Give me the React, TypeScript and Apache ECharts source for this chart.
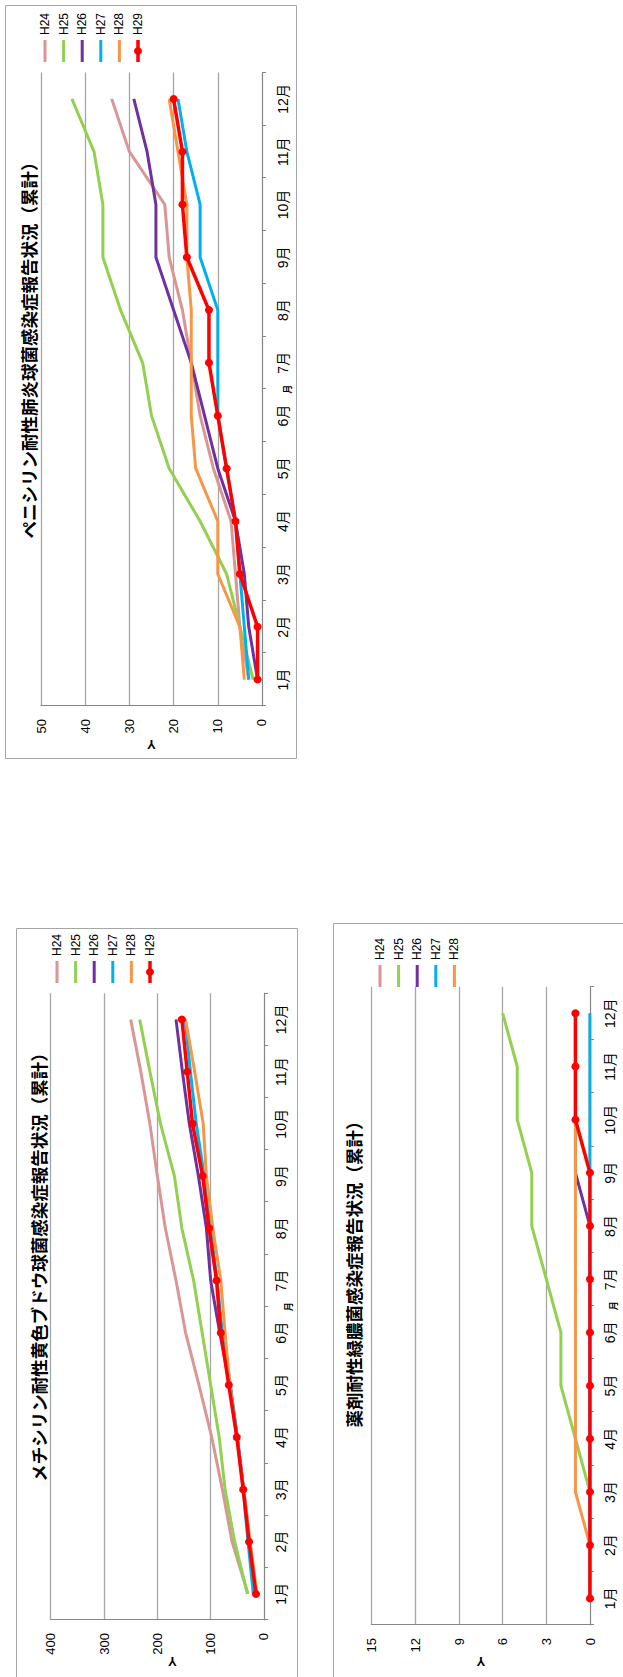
import React, { useEffect, useRef } from "react";
import * as echarts from "echarts";

const months = ["1月", "2月", "3月", "4月", "5月", "6月", "7月", "8月", "9月", "10月", "11月", "12月"];
const seriesNames = ["H24", "H25", "H26", "H27", "H28", "H29"];
const colors = ["#D99694", "#92D050", "#7030A0", "#00B0F0", "#F79646", "#FF0000"];

// ペニシリン耐性肺炎球菌
const penH24 = [3, 5, 6, 7, 11, 14, 16, 18, 21, 22, 30, 34];
const penH25 = [2, 5, 8, 14, 21, 25, 27, 32, 36, 36, 38, 43];
const penH26 = [1, 3, 4, 6, 10, 13, 16, 20, 24, 24, 26, 29];
const penH27 = [3, 4, 5, 6, 8, 10, 10, 10, 14, 14, 17, 19];
const penH28 = [4, 5, 10, 10, 15, 16, 16, 16, 17, 17, 19, 21];
const penH29 = [1, 1, 5, 6, 8, 10, 12, 12, 17, 18, 18, 20];

// メチシリン耐性黄色ブドウ球菌
const mrsaH24 = [30, 60, 78, 98, 122, 147, 165, 185, 200, 214, 231, 250];
const mrsaH25 = [31, 55, 73, 84, 100, 116, 132, 154, 168, 194, 214, 233];
const mrsaH26 = [16, 27, 38, 50, 64, 83, 100, 108, 123, 140, 153, 165];
const mrsaH27 = [20, 30, 39, 50, 63, 78, 88, 100, 112, 127, 138, 148];
const mrsaH28 = [13, 26, 38, 51, 64, 73, 81, 96, 108, 114, 130, 147];
const mrsaH29 = [15, 28, 39, 51, 66, 81, 89, 103, 115, 134, 144, 154];

// 薬剤耐性緑膿菌
const psH24 = [0, 0, 0, 0, 0, 0, 0, 0, 0, 0, 0, 0];
const psH25 = [0, 0, 0, 1, 2, 2, 3, 4, 4, 5, 5, 6];
const psH26 = [0, 0, 0, 0, 0, 0, 0, 0, 1, 1, 1, 1];
const psH27 = [0, 0, 0, 0, 0, 0, 0, 0, 0, 0, 0, 0];
const psH28 = [0, 0, 1, 1, 1, 1, 1, 1, 1, 1, 1, 1];
const psH29 = [0, 0, 0, 0, 0, 0, 0, 0, 0, 1, 1, 1];

const FONT = '"Liberation Sans", "Noto Sans CJK JP", sans-serif';
const CJK = '"Noto Sans CJK JP", sans-serif';

// legend icons: plain line, and line with a round marker (bbox padded to 22x12)
const LINE_ICON = "path://M0 0M22 12M0 4.5H22V7.5H0Z";
const MARK_ICON = "path://M0 0M22 12M0 4.25H7.4A4 4 0 0 1 14.6 4.25H22V7.75H14.6A4 4 0 0 1 7.4 7.75H0Z";

type Cfg = {
  left: number;
  bottom: number;
  w: number;
  h: number;
  title: string;
  titleX: number;
  titleTop: number;
  data: number[][];
  legendNames: string[];
  yMax: number;
  yInterval: number;
  grid: { left: number; right: number; top: number; bottom: number };
  legendLeft: number;
  legendTop: number;
  yNameGap: number;
  yNamePad?: number[];
  xLabelMargin: number;
  xNameGap: number;
};

const charts: Cfg[] = [
  {
    left: 5,
    bottom: 759,
    w: 754,
    h: 292,
    title: "ペニシリン耐性肺炎球菌感染症報告状況（累計）",
    titleX: 413,
    titleTop: 15,
    data: [penH24, penH25, penH26, penH27, penH28, penH29],
    legendNames: seriesNames,
    yMax: 50,
    yInterval: 10,
    grid: { left: 53, right: 67.5, top: 36, bottom: 31 },
    legendLeft: 697,
    legendTop: 34,
    yNameGap: 32,
    xLabelMargin: 14,
    xNameGap: 21,
  },
  {
    left: 16,
    bottom: 1678,
    w: 750,
    h: 282,
    title: "メチシリン耐性黄色ブドウ球菌感染症報告状況（累計）",
    titleX: 415,
    titleTop: 14,
    data: [mrsaH24, mrsaH25, mrsaH26, mrsaH27, mrsaH28, mrsaH29],
    legendNames: seriesNames,
    yMax: 400,
    yInterval: 100,
    grid: { left: 58, right: 65.3, top: 34.7, bottom: 29.7 },
    legendLeft: 695,
    legendTop: 35,
    yNameGap: 35,
    yNamePad: [0, 30, 0, 0],
    xLabelMargin: 10,
    xNameGap: 20,
  },
  {
    left: 333,
    bottom: 1678,
    w: 755,
    h: 300,
    title: "薬剤耐性緑膿菌感染症報告状況（累計）",
    titleX: 408,
    titleTop: 12,
    data: [psH24, psH25, psH26, psH27, psH28, psH29],
    legendNames: seriesNames.slice(0, 5),
    yMax: 15,
    yInterval: 3,
    grid: { left: 53, right: 63.7, top: 38.7, bottom: 43 },
    legendLeft: 691,
    legendTop: 41,
    yNameGap: 30,
    xLabelMargin: 13,
    xNameGap: 19,
  },
];

function buildOption(c: Cfg): any {
  return {
    animation: false,
    backgroundColor: "#ffffff",
    textStyle: { fontFamily: FONT },
    title: {
      text: c.title,
      left: c.titleX,
      top: c.titleTop,
      textAlign: "center",
      padding: 0,
      textStyle: { fontSize: 17.5, fontWeight: "bold", color: "#000", fontFamily: CJK },
    },
    legend: {
      orient: "vertical",
      left: c.legendLeft,
      top: c.legendTop,
      padding: 0,
      itemWidth: 22,
      itemHeight: 12,
      itemGap: 6.6,
      data: c.legendNames.map((n) => ({ name: n, icon: n === "H29" ? MARK_ICON : LINE_ICON })),
      textStyle: { fontSize: 12, color: "#000", lineHeight: 12, fontFamily: FONT },
    },
    grid: { ...c.grid, containLabel: false },
    xAxis: {
      type: "category",
      data: months,
      boundaryGap: true,
      axisLine: { show: true, lineStyle: { color: "#868686", width: 1 } },
      axisTick: { show: true, length: 4, lineStyle: { color: "#868686" } },
      axisLabel: { margin: c.xLabelMargin, fontSize: 14, color: "#000", interval: 0, fontFamily: FONT },
      splitLine: { show: false },
      name: "月",
      nameLocation: "middle",
      nameGap: c.xNameGap,
      nameMoveOverlap: false,
      nameTextStyle: { fontSize: 9, fontWeight: "bold", color: "#000", fontFamily: CJK },
    },
    yAxis: {
      type: "value",
      min: 0,
      max: c.yMax,
      interval: c.yInterval,
      axisLine: { show: true, lineStyle: { color: "#868686", width: 1 } },
      axisTick: { show: false },
      splitLine: { show: true, lineStyle: { color: "#A6A6A6", width: 1.3 } },
      axisLabel: { margin: 13, fontSize: 13, color: "#000", fontFamily: FONT },
      name: "Y",
      nameLocation: "middle",
      nameGap: c.yNameGap,
      nameRotate: 90,
      nameMoveOverlap: false,
      nameTextStyle: {
        fontSize: 13,
        fontWeight: "bold",
        color: "#000",
        fontFamily: FONT,
        padding: c.yNamePad || 0,
      },
    },
    graphic: [
      {
        type: "rect",
        silent: true,
        z: 100,
        shape: { x: 0.5, y: 0.5, width: c.w - 1, height: c.h - 1 },
        style: { fill: "none", stroke: "#A6A6A6", lineWidth: 1 },
      },
    ],
    series: seriesNames.map((n, i) => ({
      name: n,
      type: "line",
      data: c.data[i],
      symbol: i === 5 ? "circle" : "none",
      showSymbol: i === 5,
      symbolSize: 8,
      lineStyle: { width: i === 5 ? 3.5 : 3, color: colors[i] },
      itemStyle: { color: colors[i] },
      z: 2 + i,
    })),
  };
}

function RotatedChart({ cfg }: { cfg: Cfg }) {
  const ref = useRef<HTMLDivElement>(null);
  useEffect(() => {
    if (!ref.current) return;
    const chart = echarts.init(ref.current, null, { renderer: "svg", width: cfg.w, height: cfg.h });
    chart.setOption(buildOption(cfg));
    return () => chart.dispose();
  }, [cfg]);
  return (
    <div
      ref={ref}
      style={{
        position: "absolute",
        left: cfg.left,
        top: cfg.bottom,
        width: cfg.w,
        height: cfg.h,
        transformOrigin: "0 0",
        transform: "rotate(-90deg)",
      }}
    />
  );
}

export default function App() {
  return (
    <div
      style={{
        position: "fixed",
        left: 0,
        top: 0,
        width: 623,
        height: 1677,
        overflow: "hidden",
        background: "#ffffff",
      }}
    >
      {charts.map((c, i) => (
        <RotatedChart key={i} cfg={c} />
      ))}
    </div>
  );
}
